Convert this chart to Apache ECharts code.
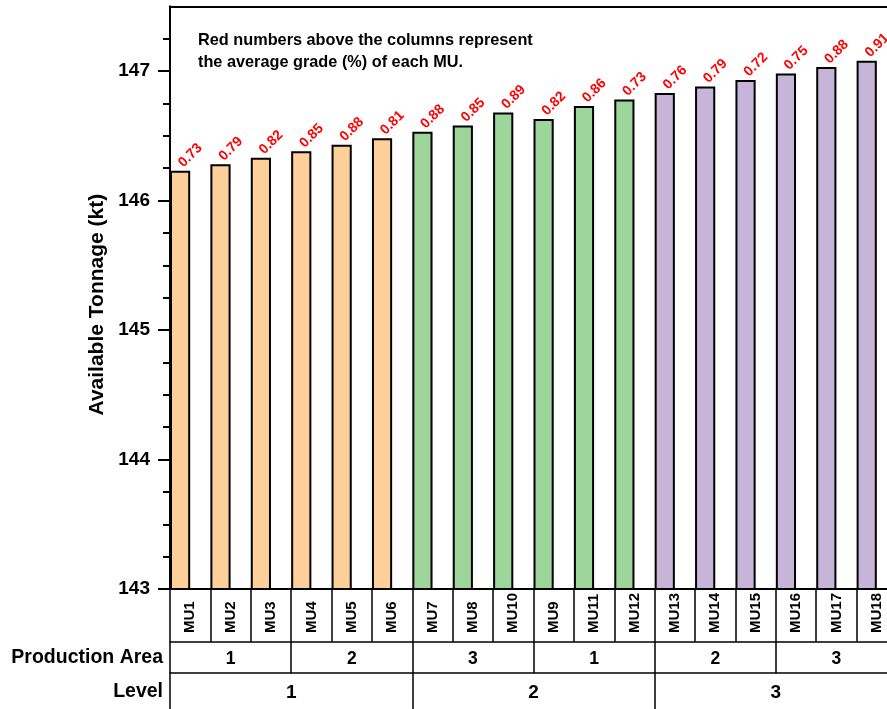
<!DOCTYPE html>
<html>
<head>
<meta charset="utf-8">
<script src="https://cdn.jsdelivr.net/npm/echarts@6/dist/echarts.min.js"></script>
<style>html,body{margin:0;padding:0;background:#fff;overflow:hidden;width:887px;height:709px;}#c{width:897px;height:709px;}</style>
</head>
<body>
<div id="c"></div>
<script>
const categories = ['MU1','MU2','MU3','MU4','MU5','MU6','MU7','MU8','MU10','MU9','MU11','MU12','MU13','MU14','MU15','MU16','MU17','MU18'];
const tonnage = [146.23,146.28,146.33,146.38,146.43,146.48,146.53,146.58,146.68,146.63,146.73,146.78,146.83,146.88,146.93,146.98,147.03,147.08];
const grades = [0.73,0.79,0.82,0.85,0.88,0.81,0.88,0.85,0.89,0.82,0.86,0.73,0.76,0.79,0.72,0.75,0.88,0.91];
const levelOfMU = [1,1,1,1,1,1,2,2,2,2,2,2,3,3,3,3,3,3];
const areaLabels = ['1','2','3','1','2','3'];
const levelLabels = ['1','2','3'];
const yTicks = [143,144,145,146,147];
const levelColors = {1:'#FECF99', 2:'#9DD59B', 3:'#C6B5D8'};

const FONT = '"Liberation Sans", Arial, sans-serif';
const chart = echarts.init(document.getElementById('c'), null, {renderer:'canvas'});

const barData = tonnage.map((v,i)=>({value:v, itemStyle:{color:levelColors[levelOfMU[i]]}}));

chart.setOption({
  animation:false,
  title:{
    text:'Red numbers above the columns represent\nthe average grade (%) of each MU.',
    left:198, top:30, padding:0,
    textStyle:{fontFamily:FONT, fontWeight:'bold', fontSize:16.3, color:'#000', lineHeight:22}
  },
  grid:{left:170, right:0, top:6.25, bottom:120, containLabel:false},
  graphic:[
    {type:'text', right:897-163, top:648, style:{text:'Production Area', font:'bold 19.5px '+FONT, fill:'#000'}},
    {type:'text', right:897-163, top:682, style:{text:'Level', font:'bold 19.5px '+FONT, fill:'#000'}}
  ],
  xAxis:[
    {type:'category', data:categories, position:'bottom', boundaryGap:true,
     axisLine:{show:true, lineStyle:{color:'#000', width:2}},
     axisTick:{show:true, interval:0, length:52.7, alignWithLabel:false, lineStyle:{color:'#000', width:1.5}},
     axisLabel:{interval:0, rotate:90, align:'left', verticalAlign:'middle', margin:44, fontFamily:FONT, fontWeight:'bold', fontSize:15, color:'#000'},
     splitLine:{show:false}},
    {type:'category', data:areaLabels, position:'bottom', offset:52.7, boundaryGap:true,
     axisLine:{show:true, lineStyle:{color:'#000', width:1.5}},
     axisTick:{show:true, interval:0, length:31.5, lineStyle:{color:'#000', width:1.5}},
     axisLabel:{interval:0, margin:8, fontFamily:FONT, fontWeight:'bold', fontSize:17.5, color:'#000'},
     splitLine:{show:false}},
    {type:'category', data:levelLabels, position:'bottom', offset:84.2, boundaryGap:true,
     axisLine:{show:true, lineStyle:{color:'#000', width:1.5}},
     axisTick:{show:true, interval:0, length:40, lineStyle:{color:'#000', width:1.5}},
     axisLabel:{interval:0, margin:10, fontFamily:FONT, fontWeight:'bold', fontSize:19, color:'#000'},
     splitLine:{show:false}},
    {type:'category', data:categories, position:'top',
     axisLine:{show:true, lineStyle:{color:'#000', width:2}},
     axisTick:{show:false}, axisLabel:{show:false}, splitLine:{show:false}}
  ],
  yAxis:{
    type:'value', min:yTicks[0], max:147.5, interval:1,
    name:'Available Tonnage (kt)', nameLocation:'middle', nameGap:58,
    nameTextStyle:{fontFamily:FONT, fontWeight:'bold', fontSize:21, color:'#000', padding:[0,14,0,0]},
    axisLine:{show:true, lineStyle:{color:'#000', width:2}},
    axisTick:{show:true, inside:false, length:12, customValues:yTicks, lineStyle:{color:'#000', width:2}},
    minorTick:{show:true, splitNumber:4, length:7, lineStyle:{color:'#000', width:2}},
    axisLabel:{fontFamily:FONT, fontWeight:'bold', fontSize:19, color:'#000', margin:20, customValues:yTicks},
    splitLine:{show:false}
  },
  series:[
    {type:'bar', xAxisIndex:0, data:barData, barWidth:'50%', barGap:'0%',
     itemStyle:{borderColor:'#000', borderWidth:2},
     label:{show:true, position:'top', rotate:45, align:'left', verticalAlign:'middle', distance:5,
       offset:[1,0],
       fontFamily:FONT, fontWeight:'bold', fontSize:14, color:'#FF0000',
       formatter:function(p){return grades[p.dataIndex].toFixed(2);}}},
    {type:'bar', xAxisIndex:0, data:categories.map(()=>'-'), barWidth:'50%', barGap:'0%', silent:true}
  ]
});
</script>
</body>
</html>
